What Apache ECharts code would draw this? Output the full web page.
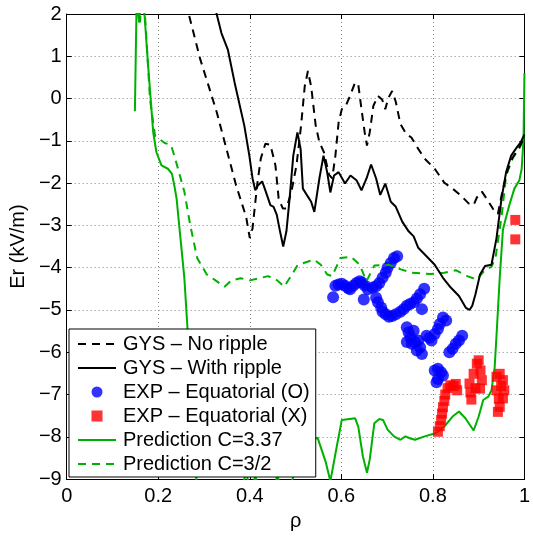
<!DOCTYPE html>
<html>
<head>
<meta charset="utf-8">
<script src="https://cdn.jsdelivr.net/npm/echarts@6/dist/echarts.min.js"></script>
<style>html,body{margin:0;padding:0;background:#fff}#c{width:533px;height:536px}</style>
</head>
<body>
<div id="c"></div>
<script>
// ---- data ----
const xTicks = [0, 0.2, 0.4, 0.6, 0.8, 1];
const yTicks = [-9, -8, -7, -6, -5, -4, -3, -2, -1, 0, 1, 2];

const rhoNoRipple = [0.255,0.267,0.292,0.310,0.328,0.349,0.370,0.392,0.400,0.406,0.416,0.424,0.434,0.445,0.456,0.463,0.472,0.480,0.491,0.502,0.512,0.520,0.527,0.534,0.544,0.552,0.562,0.573,0.580,0.587,0.594,0.601,0.608,0.619,0.630,0.637,0.644,0.651,0.656,0.662,0.670,0.680,0.689,0.696,0.703,0.711,0.719,0.729,0.742,0.753,0.768,0.782,0.804,0.825,0.843,0.860,0.878,0.889,0.896,0.907,0.917,0.932,0.942,0.953,0.963,0.974,0.989,0.996,1.0];
const erNoRipple  = [2.6,1.98,0.92,0.3,-0.33,-1.19,-2.05,-2.8,-3.3,-3.07,-2.05,-1.42,-1.07,-1.09,-1.58,-2.36,-2.6,-2.6,-2.2,-1.58,-0.64,0.29,0.65,0.29,-0.64,-1.03,-1.27,-1.8,-1.89,-1.35,-0.57,-0.25,-0.21,0.06,0.38,0.33,-0.25,-0.8,-1.11,-0.8,-0.17,0.06,-0.02,-0.25,0.02,0.18,-0.08,-0.6,-0.84,-0.92,-1.19,-1.42,-1.66,-1.99,-2.13,-2.28,-2.48,-2.52,-2.34,-2.2,-2.36,-2.62,-2.73,-2.13,-1.7,-1.4,-1.15,-1.0,-0.9];

const rhoWithRipple = [0.315,0.328,0.338,0.352,0.367,0.388,0.399,0.406,0.412,0.418,0.427,0.434,0.445,0.452,0.459,0.466,0.473,0.480,0.487,0.495,0.504,0.511,0.516,0.527,0.534,0.541,0.552,0.561,0.569,0.576,0.584,0.594,0.608,0.620,0.633,0.644,0.655,0.665,0.676,0.685,0.696,0.708,0.719,0.733,0.747,0.758,0.768,0.786,0.804,0.822,0.839,0.857,0.872,0.880,0.886,0.893,0.903,0.914,0.928,0.939,0.950,0.960,0.971,0.981,0.992,1.0];
const erWithRipple  = [2.6,1.98,1.55,1.16,0.37,-0.64,-1.35,-1.89,-2.17,-2.05,-1.96,-2.17,-2.52,-2.56,-2.75,-3.14,-3.5,-3.14,-2.36,-1.35,-0.8,-1.19,-2.13,-2.32,-2.44,-2.68,-1.89,-1.35,-1.74,-2.22,-1.82,-1.74,-2.01,-1.82,-1.93,-2.17,-1.89,-1.56,-1.89,-2.28,-2.01,-2.44,-2.56,-2.91,-3.14,-3.26,-3.53,-3.73,-3.93,-4.24,-4.47,-4.67,-4.95,-5.0,-4.9,-4.63,-4.16,-3.96,-3.93,-3.3,-2.36,-1.74,-1.35,-1.19,-1.03,-0.85];

const rhoExpO = [0.582,0.587,0.594,0.601,0.608,0.615,0.619,0.626,0.633,0.640,0.645,0.651,0.649,0.658,0.668,0.676,0.683,0.690,0.697,0.701,0.708,0.715,0.722,
                 0.676,0.680,0.687,0.690,0.697,0.704,0.711,0.719,0.729,0.736,0.743,0.750,0.758,0.765,0.772,0.781,0.776,
                 0.743,0.747,0.751,0.743,0.754,0.761,0.768,0.772,0.776,0.765,0.758,
                 0.786,0.792,0.797,0.804,0.811,0.815,0.822,0.829,
                 0.836,0.843,0.850,0.857,0.864,
                 0.804,0.811,0.818,0.822,0.811,0.808];
const erExpO  = [-4.70,-4.43,-4.40,-4.38,-4.43,-4.48,-4.51,-4.43,-4.36,-4.32,-4.35,-4.42,-4.75,-4.51,-4.47,-4.44,-4.36,-4.24,-4.12,-4.00,-3.89,-3.77,-3.73,
                 -4.71,-4.82,-4.94,-5.04,-5.10,-5.16,-5.14,-5.10,-5.04,-4.98,-4.90,-4.86,-4.82,-4.73,-4.63,-4.50,-4.98,
                 -5.41,-5.53,-5.65,-5.76,-5.80,-5.76,-5.72,-5.88,-6.04,-5.96,-5.49,
                 -5.61,-5.66,-5.72,-5.57,-5.45,-5.33,-5.18,-5.25,
                 -6.00,-5.92,-5.80,-5.72,-5.61,
                 -6.43,-6.39,-6.47,-6.55,-6.63,-6.71];

const rhoExpX = [0.811,0.815,0.818,0.820,0.822,0.825,0.827,0.832,0.838,0.845,0.850,0.853,
                 0.880,0.882,0.884,0.889,0.896,0.900,0.904,0.907,0.903,0.893,
                 0.939,0.946,0.953,0.956,0.953,0.946,0.942,0.939,0.949,0.944,
                 0.980,0.980];
const erExpX  = [-7.88,-7.75,-7.60,-7.45,-7.30,-7.15,-7.00,-6.85,-6.78,-6.80,-6.75,-6.90,
                 -6.74,-6.95,-7.12,-6.51,-6.27,-6.19,-6.43,-6.66,-6.86,-6.85,
                 -6.58,-6.51,-6.66,-6.90,-7.09,-7.29,-7.41,-6.90,-6.80,-7.10,
                 -2.87,-3.33];

const rhoC337 = [0.149,0.153,0.158,0.164,0.170,0.178,0.189,0.196,0.207,0.221,0.230,0.235,0.240,0.257,0.270,0.285,0.300,0.370,0.385,0.392,0.400,0.405,0.412,0.420,0.450,0.460,0.470,0.490,0.500,0.520,0.534,0.548,0.566,0.576,0.590,0.601,0.605,0.630,0.637,0.647,0.656,0.662,0.672,0.683,0.691,0.701,0.715,0.729,0.740,0.751,0.761,0.782,0.807,0.825,0.843,0.857,0.871,0.889,0.900,0.910,0.921,0.928,0.935,0.940,0.946,0.953,0.960,0.967,0.978,0.989,0.994,0.998,1.0];
const erC337  = [-0.3,2.5,1.8,2.5,1.98,0.76,-0.8,-1.27,-1.58,-1.66,-1.78,-2.05,-2.36,-4.24,-6.5,-9.3,-10,-10,-9.1,-8.85,-9.2,-9.3,-8.9,-9.3,-9.4,-8.9,-9.3,-9.1,-8.8,-8.3,-8.1,-8.02,-8.6,-9.05,-8.23,-7.6,-7.56,-7.56,-7.76,-8.46,-8.85,-8.54,-7.68,-7.58,-7.6,-7.83,-7.99,-8.07,-7.99,-8.04,-8.07,-7.99,-7.91,-7.76,-7.52,-7.40,-7.56,-7.85,-7.52,-7.13,-7.05,-6.9,-6.35,-5.41,-4.24,-3.1,-2.8,-2.52,-2.13,-1.93,-1.66,-0.96,0.6];

const rhoC32 = [0.155,0.160,0.165,0.171,0.182,0.193,0.214,0.228,0.237,0.257,0.270,0.285,0.306,0.325,0.345,0.360,0.380,0.400,0.420,0.440,0.460,0.475,0.490,0.505,0.541,0.555,0.569,0.580,0.598,0.621,0.640,0.655,0.672,0.704,0.730,0.754,0.794,0.825,0.850,0.875,0.896,0.914,0.928,0.937,0.942,0.950,0.960,0.974,0.989,0.996,1.0];
const erC32  = [2.5,1.8,2.5,1.98,-0.02,-0.88,-1.05,-1.1,-1.42,-2.2,-3.0,-3.77,-4.16,-4.3,-4.45,-4.3,-4.25,-4.3,-4.25,-4.2,-4.3,-4.45,-4.2,-3.93,-3.81,-3.93,-4.16,-4.2,-3.77,-3.74,-3.93,-4.32,-3.95,-3.93,-4.04,-4.12,-4.15,-4.12,-4.06,-4.2,-4.28,-4.05,-3.98,-3.75,-3.38,-2.8,-1.82,-1.42,-1.17,-1.03,-0.95];

const names = ['GYS \u2013 No ripple','GYS \u2013 With ripple','EXP \u2013 Equatorial (O)','EXP \u2013 Equatorial (X)','Prediction C=3.37','Prediction C=3/2'];

// ---- build ----
const zip = (a, b) => a.map((v, i) => [v, b[i]]);
const FONT = 'Liberation Sans';
const FS = 20;
const GREEN = '#00b000';
const fmtY = v => (v < 0 ? '\u2212' + Math.abs(v) : String(v));
const fmtX = v => (v === 0 || v === 1 ? String(v) : v.toFixed(1));

const chart = echarts.init(document.getElementById('c'), null, {renderer: 'canvas'});
const baseAxis = {
  axisLine: {show: true, onZero: false, lineStyle: {color: '#000', width: 1}},
  axisTick: {show: true, inside: true, length: 5, lineStyle: {color: '#000'}},
  splitLine: {show: false}
};
const hideSym = {opacity: 0, borderWidth: 0};
chart.setOption({
  animation: false,
  backgroundColor: '#fff',
  grid: {left: 63, right: 1, top: 14, bottom: 53, containLabel: false},
  xAxis: [
    Object.assign({}, baseAxis, {
      type: 'value', min: xTicks[0], max: xTicks[xTicks.length - 1], interval: 0.2,
      name: '\u03c1', nameLocation: 'middle', nameGap: 26,
      nameTextStyle: {fontFamily: FONT, fontSize: FS, color: '#000'},
      axisLabel: {fontFamily: FONT, fontSize: FS, color: '#000', margin: 7, formatter: fmtX, showMinLabel: true, showMaxLabel: true},
      splitLine: {show: true, lineStyle: {color: '#888', width: 1, type: [1, 3]}}
    }),
    Object.assign({}, baseAxis, {
      type: 'value', position: 'top', min: 0, max: 1, interval: 0.2, axisLabel: {show: false}
    })
  ],
  yAxis: [
    Object.assign({}, baseAxis, {
      type: 'value', min: yTicks[0], max: yTicks[yTicks.length - 1], interval: 1,
      name: 'Er (kV/m)', nameLocation: 'middle', nameGap: 33, nameRotate: 90,
      nameTextStyle: {fontFamily: FONT, fontSize: FS, color: '#000'},
      axisLabel: {fontFamily: FONT, fontSize: FS, color: '#000', margin: 5, formatter: fmtY, showMinLabel: true, showMaxLabel: true},
      splitLine: {show: true, lineStyle: {color: '#888', width: 1, type: [1, 3]}}
    }),
    Object.assign({}, baseAxis, {
      type: 'value', position: 'right', min: -9, max: 2, interval: 1, axisLabel: {show: false}
    })
  ],
  legend: {
    orient: 'vertical', left: 69, top: 329,
    padding: [5, 6, 3, 8], itemGap: 4, itemWidth: 38, itemHeight: 11,
    backgroundColor: '#fff', borderColor: '#000', borderWidth: 1, borderRadius: 0,
    textStyle: {fontFamily: FONT, fontSize: FS, color: '#000', lineHeight: 20, padding: [0, 0, 0, 2]},
    data: [
      {name: names[0], itemStyle: hideSym},
      {name: names[1], itemStyle: hideSym},
      {name: names[2], icon: 'circle'},
      {name: names[3], icon: 'path://M0,0L10,0L10,10L0,10Z'},
      {name: names[4], itemStyle: hideSym},
      {name: names[5], itemStyle: hideSym}
    ],
    selectedMode: false, z: 10
  },
  series: [
    {name: names[0], type: 'line', data: zip(rhoNoRipple, erNoRipple), symbol: 'none', showSymbol: false,
     color: '#000', lineStyle: {color: '#000', width: 2, type: [8, 6]}, z: 4},
    {name: names[1], type: 'line', data: zip(rhoWithRipple, erWithRipple), symbol: 'none', showSymbol: false,
     color: '#000', lineStyle: {color: '#000', width: 2}, z: 4},
    {name: names[2], type: 'scatter', data: zip(rhoExpO, erExpO), symbol: 'circle', symbolSize: 12,
     itemStyle: {color: '#0000ff'}, z: 2},
    {name: names[3], type: 'scatter', data: zip(rhoExpX, erExpX), symbol: 'rect', symbolSize: 10,
     itemStyle: {color: '#ff0000'}, z: 5},
    {name: names[4], type: 'line', data: zip(rhoC337, erC337), symbol: 'none', showSymbol: false,
     color: GREEN, lineStyle: {color: GREEN, width: 2}, z: 3},
    {name: names[5], type: 'line', data: zip(rhoC32, erC32), symbol: 'none', showSymbol: false,
     color: GREEN, lineStyle: {color: GREEN, width: 2, type: [8, 6]}, z: 3}
  ]
});
</script>
</body>
</html>
